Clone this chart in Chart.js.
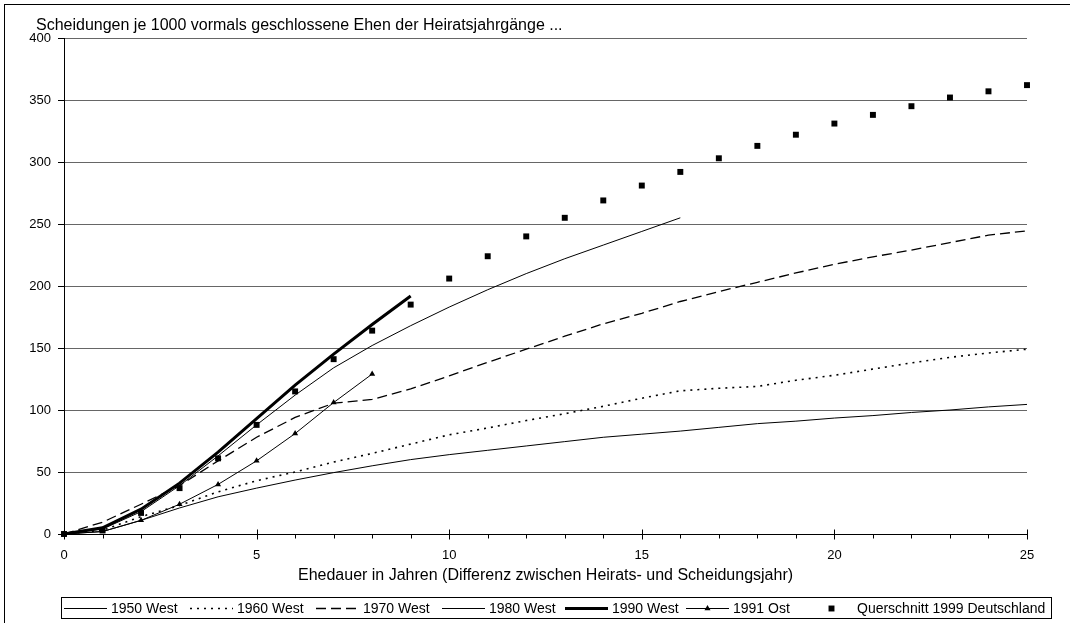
<!DOCTYPE html>
<html>
<head>
<meta charset="utf-8">
<script src="https://cdn.jsdelivr.net/npm/chart.js@4.4.1/dist/chart.umd.min.js"></script>
<style>
  html, body { margin: 0; padding: 0; background: #fff; }
  #wrap { width: 1070px; height: 623px; position: relative; }
</style>
</head>
<body>
<div id="wrap"><canvas id="c" width="1070" height="623"></canvas></div>
<script>
// Ehedauer (Jahre seit der Heirat)
const ehedauer = [0, 1, 2, 3, 4, 5, 6, 7, 8, 9, 10, 11, 12, 13, 14, 15, 16, 17, 18, 19, 20, 21, 22, 23, 24, 25];

// Kumulierte Scheidungen je 1000 Ehen nach Heiratsjahrgang
const west1950 = [0, 2, 11, 21, 30, 37, 43.5, 49.5, 55, 60, 64, 67.5, 71, 74.5, 78, 80.5, 83, 86, 89, 91, 93.5, 95.5, 98, 100, 102.5, 104.5];
const west1960 = [0, 3, 14, 23, 34, 43, 50, 58, 65, 72.5, 80, 85.5, 91.5, 97, 103, 109.5, 115.5, 117.5, 119, 124, 128, 133, 138, 142.5, 146, 149];
const west1970 = [0, 9.5, 24, 39, 59, 78, 94, 105.5, 108.5, 117, 127.5, 138.5, 149, 159.5, 169.5, 178, 187.5, 195.5, 203, 210.5, 217.5, 223.5, 229, 235, 241, 244.5];
const west1980 = [0, 4, 18, 39, 63, 88, 112, 134, 152, 168, 183, 197, 210, 222, 233, 244, 255];
const west1990 = [0, 5, 20, 41, 66, 93, 120, 145, 169, 192];
const ost1991 = [0, 2, 11, 24, 40, 59, 81, 106, 129];
const querschnitt1999 = [0, 3, 17, 37, 61, 88, 115, 141, 164, 185, 206, 224, 240, 255, 269, 281, 292, 303, 313, 322, 331, 338, 345, 352, 357, 362];

const seriesNames = ['1950 West', '1960 West', '1970 West', '1980 West', '1990 West', '1991 Ost', 'Querschnitt 1999 Deutschland'];
const yTicks = [0, 50, 100, 150, 200, 250, 300, 350, 400];
const xTicks = [0, 5, 10, 15, 20, 25];

const titleText = 'Scheidungen je 1000 vormals geschlossene Ehen der Heiratsjahrgänge ...';
const xTitleText = 'Ehedauer in Jahren (Differenz zwischen Heirats- und Scheidungsjahr)';

const FONT = '"Liberation Sans", Arial, sans-serif';

function points(values) {
  return values.map((v, i) => ({ x: ehedauer[i], y: v }));
}

const styles = [
  { borderWidth: 1, borderDash: [] },
  { borderWidth: 1.6, borderDash: [2, 5] },
  { borderWidth: 1.3, borderDash: [10, 5] },
  { borderWidth: 1, borderDash: [] },
  { borderWidth: 3, borderDash: [] },
  { borderWidth: 1, borderDash: [], pointStyle: 'triangle', pointRadius: 3.5 },
  { showLine: false, pointStyle: 'rect', pointRadius: 4.2 }
];
const seriesData = [west1950, west1960, west1970, west1980, west1990, ost1991, querschnitt1999];

const datasets = seriesData.map((vals, i) => Object.assign({
  label: seriesNames[i],
  data: points(vals),
  borderColor: '#000',
  backgroundColor: '#000',
  pointBackgroundColor: '#000',
  pointBorderColor: '#000',
  pointBorderWidth: 0,
  pointRadius: 0,
  tension: 0,
  fill: false,
  clip: false
}, styles[i]));

// Legend layout: sample start per entry
const legendStarts = [64, 190, 316, 442, 565, 686, 810];
const legendSampleLen = 43;

// Frame, heading, x tick marks and legend
const decor = {
  id: 'decor',
  beforeDraw(chart) {
    const ctx = chart.ctx;
    ctx.save();
    ctx.fillStyle = '#fff';
    ctx.fillRect(0, 0, chart.width, chart.height);
    ctx.strokeStyle = '#000';
    ctx.lineWidth = 1;
    ctx.strokeRect(4.5, 4.5, chart.width + 10, chart.height + 10);
    ctx.restore();
  },
  afterDraw(chart) {
    const ctx = chart.ctx;
    const xs = chart.scales.x;
    const area = chart.chartArea;
    ctx.save();
    // heading
    ctx.fillStyle = '#000';
    ctx.font = '16px ' + FONT;
    ctx.textBaseline = 'alphabetic';
    ctx.textAlign = 'left';
    ctx.fillText(titleText, 36, 30);

    // x tick marks: long at labelled years, short at every year
    ctx.strokeStyle = '#000';
    ctx.lineWidth = 1;
    const yb = Math.round(area.bottom) + 0.5;
    ehedauer.forEach(v => {
      const px = Math.round(xs.getPixelForValue(v)) + 0.5;
      const major = xTicks.includes(v);
      ctx.beginPath();
      ctx.moveTo(px, major ? yb - 5 : yb);
      ctx.lineTo(px, yb + (major ? 5 : 4));
      ctx.stroke();
    });

    // legend
    const bx = 61.5, by = 597.5, bw = 990, bh = 21;
    ctx.strokeRect(bx, by, bw, bh);
    const cy = by + bh / 2;
    ctx.font = '14px ' + FONT;
    ctx.textBaseline = 'middle';
    datasets.forEach((ds, i) => {
      const x0 = legendStarts[i];
      ctx.save();
      ctx.strokeStyle = '#000';
      ctx.fillStyle = '#000';
      if (ds.showLine !== false) {
        ctx.lineWidth = ds.borderWidth;
        ctx.setLineDash(ds.borderDash || []);
        ctx.beginPath();
        ctx.moveTo(x0, Math.round(cy) + (ds.borderWidth % 2 ? 0.5 : 0));
        ctx.lineTo(x0 + legendSampleLen, Math.round(cy) + (ds.borderWidth % 2 ? 0.5 : 0));
        ctx.stroke();
      }
      ctx.setLineDash([]);
      if (ds.pointStyle) {
        Chart.helpers.drawPoint(ctx, {
          pointStyle: ds.pointStyle,
          radius: ds.pointRadius,
          borderWidth: 0,
          rotation: 0
        }, x0 + legendSampleLen / 2, Math.round(cy) + 0.5);
      }
      ctx.fillText(seriesNames[i], x0 + legendSampleLen + 4, cy + 1);
      ctx.restore();
    });
    ctx.restore();
  }
};

new Chart(document.getElementById('c'), {
  type: 'line',
  data: { datasets },
  plugins: [decor],
  options: {
    responsive: false,
    animation: false,
    events: [],
    layout: { padding: { left: 0, right: 43, top: 38, bottom: 38 } },
    plugins: { legend: { display: false }, tooltip: { enabled: false }, title: { display: false } },
    scales: {
      x: {
        type: 'linear',
        min: 0,
        max: 25,
        afterFit(s) { s.height = 51; },
        afterBuildTicks(s) { s.ticks = xTicks.map(v => ({ value: v })); },
        grid: { display: false, drawTicks: false },
        border: { display: true, color: '#000', width: 1 },
        ticks: { color: '#000', font: { family: FONT, size: 13 }, padding: 14, maxRotation: 0, autoSkip: false },
        title: { display: true, text: xTitleText, color: '#000', font: { family: FONT, size: 16 }, padding: { top: 4, bottom: 0 } }
      },
      y: {
        min: 0,
        max: 400,
        afterFit(s) { s.width = 64; },
        afterBuildTicks(s) { s.ticks = yTicks.map(v => ({ value: v })); },
        grid: { color: '#666', lineWidth: 1, drawTicks: true, tickLength: 6, tickColor: '#000' },
        border: { display: true, color: '#000', width: 1 },
        ticks: { color: '#000', font: { family: FONT, size: 13 }, padding: 7 }
      }
    }
  }
});
</script>
</body>
</html>
